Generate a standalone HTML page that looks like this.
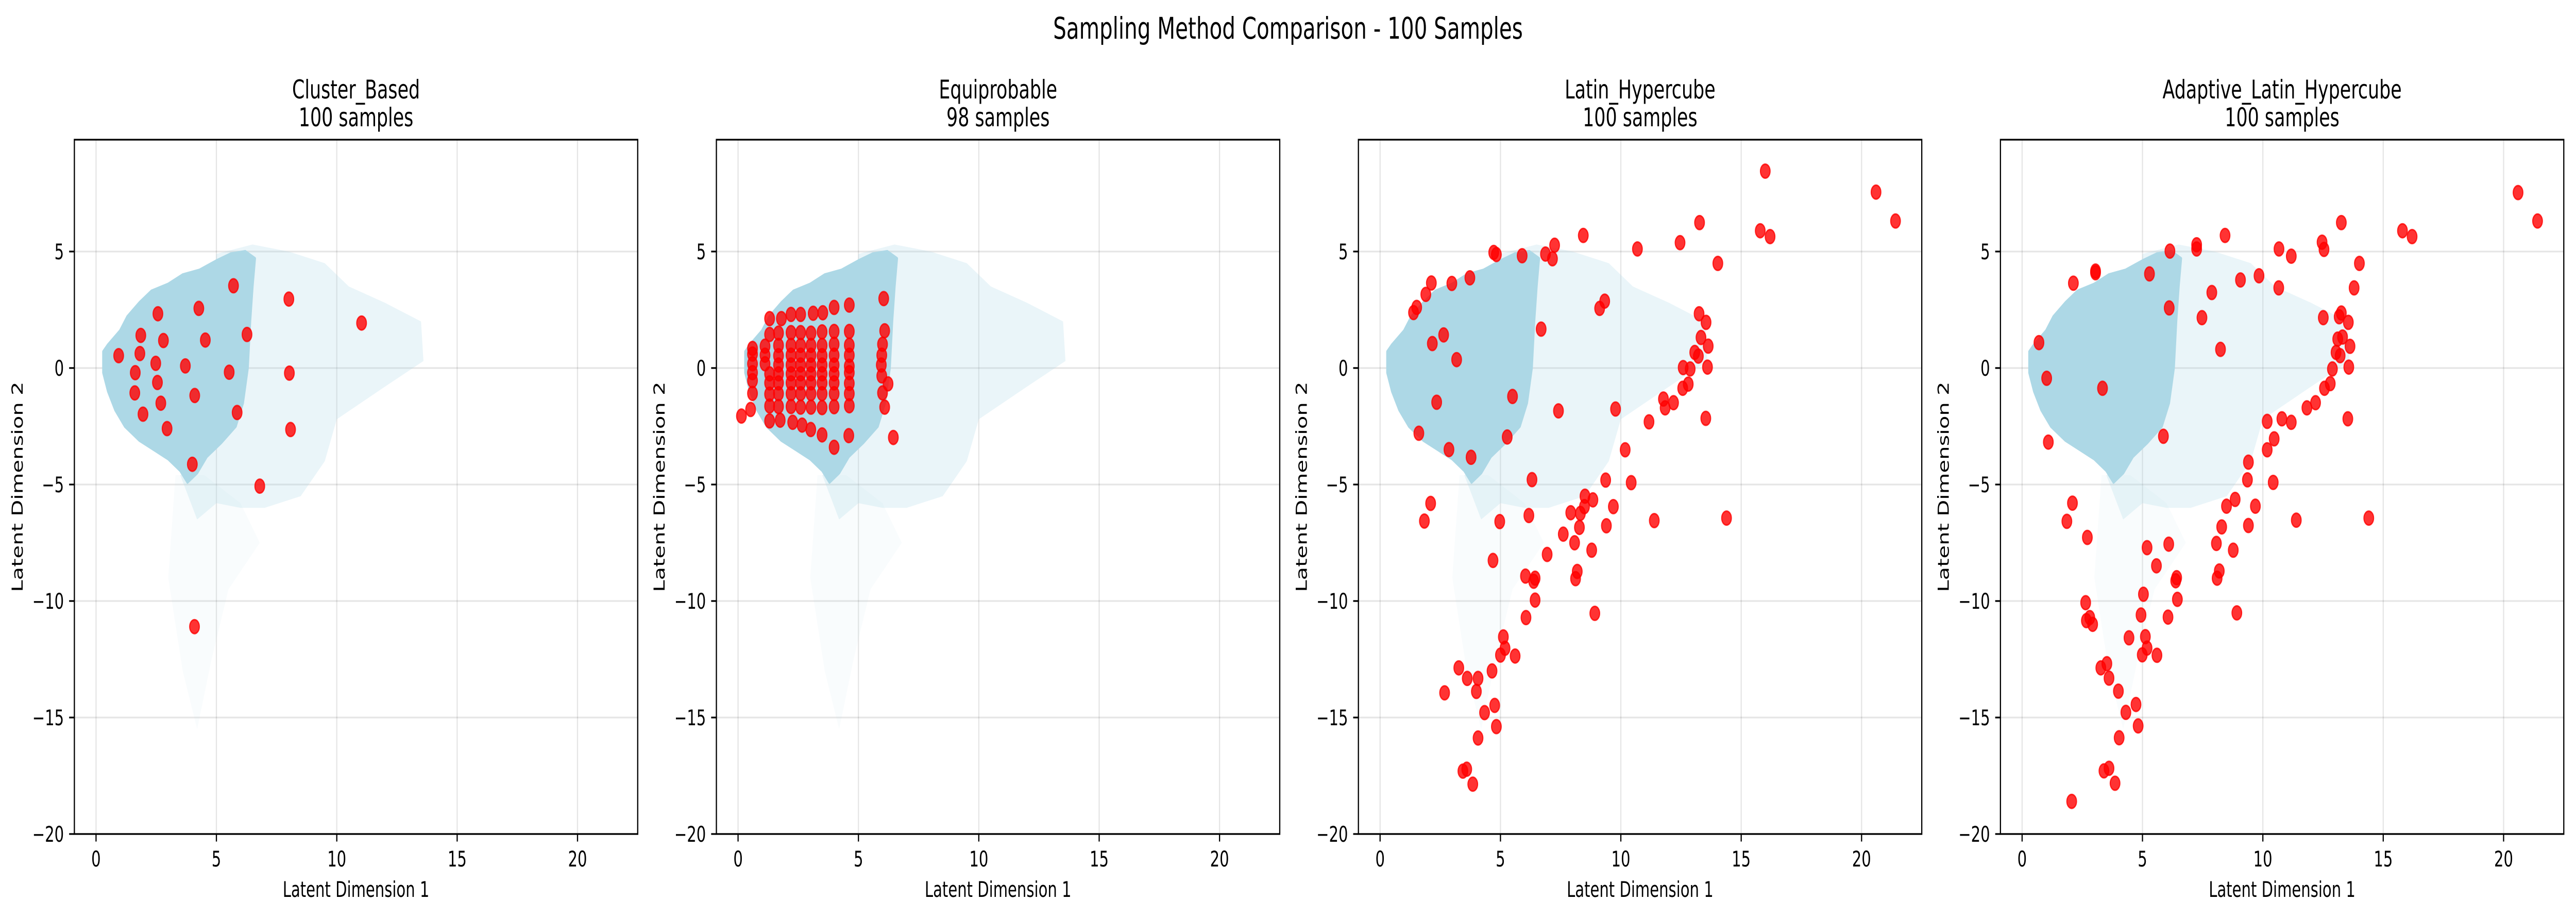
<!DOCTYPE html>
<html><head><meta charset="utf-8"><style>
html,body{margin:0;padding:0;background:#fff;width:100%;height:100%;overflow:hidden}
#fig{display:block;width:100vw;height:100vh}
text{font-family:"DejaVu Sans","Liberation Sans",sans-serif;fill:#000}
</style></head><body>
<svg id="fig" xmlns="http://www.w3.org/2000/svg" viewBox="0 0 7170 1779" preserveAspectRatio="none">
<text x="3585" y="75" font-size="58" text-anchor="middle">Sampling Method Comparison - 100 Samples</text>
</svg>
<script>
const xTicks=[0,5,10,15,20];
const yTicks=[5,0,-5,-10,-15,-20];
const panelTitles=["Cluster_Based","Equiprobable","Latin_Hypercube","Adaptive_Latin_Hypercube"];
const panelCounts=["100 samples","98 samples","100 samples","100 samples"];
// background cloud outlines (data coordinates)
const coreX=[0.3,0.5,1.0,1.3,1.8,2.3,3.0,3.6,4.3,5.0,5.6,6.2,6.6,6.5,6.4,6.3,6.1,5.8,5.2,4.6,4.2,3.8,3.5,3.0,2.4,1.8,1.2,0.8,0.5,0.3];
const coreY=[0.7,1.0,1.6,2.2,2.8,3.3,3.6,4.0,4.2,4.6,4.9,5.0,4.7,3.5,2.0,0.0,-1.5,-2.5,-3.2,-3.8,-4.5,-4.9,-4.4,-3.9,-3.5,-3.1,-2.5,-1.8,-1.0,-0.2];
const haloX=[5.0,6.5,8.0,9.5,10.5,12.0,13.5,13.6,12.0,10.0,9.5,8.5,7.0,6.0,5.0,4.2,3.5,4.5];
const haloY=[4.9,5.3,5.0,4.5,3.5,2.8,2.0,0.3,-0.8,-2.2,-4.0,-5.5,-6.0,-6.0,-5.8,-6.5,-4.6,-3.8];
const tailX=[3.3,4.5,6.0,6.8,5.5,4.8,4.2,3.6,3.0];
const tailY=[-4.6,-4.6,-5.8,-7.5,-9.5,-12.5,-15.5,-13.0,-9.0];

const clusterX=[0.94,1.86,1.82,1.63,1.61,1.95,2.57,2.48,2.55,2.69,2.80,2.95,3.71,4.27,4.54,4.10,4.00,4.09,5.71,5.53,6.27,5.86,6.80,8.01,8.03,8.08,11.03];
const clusterY=[0.53,1.40,0.62,-0.20,-1.07,-1.98,2.33,0.20,-0.62,-1.51,1.18,-2.60,0.09,2.56,1.20,-1.18,-4.13,-11.1,3.53,-0.18,1.44,-1.91,-5.07,2.96,-0.22,-2.64,1.93];

const equiX=[0.6,0.6,0.6,0.6,0.6,0.6,0.52,0.14,
 1.12,1.12,1.12,
 1.31,1.31,1.31,1.31,1.31,1.31,1.31,
 1.8,1.68,1.68,1.68,1.68,1.68,1.68,1.68,1.68,1.75,
 2.2,2.2,2.2,2.2,2.2,2.2,2.2,2.2,2.2,2.27,
 2.6,2.6,2.6,2.6,2.6,2.6,2.6,2.6,2.6,2.66,
 3.12,3.03,3.03,3.03,3.03,3.03,3.03,3.03,3.03,3.02,
 3.52,3.49,3.49,3.49,3.49,3.49,3.49,3.49,3.49,3.49,
 3.99,3.99,3.99,3.99,3.99,3.99,3.99,3.99,3.99,3.99,
 4.62,4.62,4.62,4.62,4.62,4.62,4.62,4.62,4.62,4.6,
 6.05,6.09,6.0,5.97,5.95,5.97,6.23,6.0,6.09,6.45];
const equiY=[0.84,0.6,0.18,-0.2,-0.54,-1.09,-1.78,-2.06,
 0.94,0.55,0.18,
 2.12,1.44,-0.25,-0.64,-1.12,-1.63,-2.27,
 2.12,1.5,0.97,0.53,0.13,-0.25,-0.64,-1.1,-1.65,-2.24,
 2.3,1.52,0.97,0.55,0.13,-0.25,-0.64,-1.1,-1.65,-2.33,
 2.3,1.52,0.97,0.55,0.13,-0.25,-0.64,-1.1,-1.68,-2.45,
 2.35,1.5,0.97,0.55,0.13,-0.25,-0.64,-1.1,-1.68,-2.64,
 2.37,1.55,0.97,0.53,0.13,-0.25,-0.64,-1.1,-1.7,-2.87,
 2.6,1.57,1.02,0.55,0.13,-0.25,-0.64,-1.1,-1.66,-3.4,
 2.7,1.57,0.98,0.55,0.08,-0.2,-0.66,-1.1,-1.62,-2.9,
 2.98,1.6,1.02,0.55,0.13,-0.34,-0.68,-1.07,-1.68,-2.98];

const lhsX=[16.0,20.6,21.41,13.27,15.79,16.2,12.46,10.69,8.44,7.25,7.16,6.87,5.9,4.72,4.83,14.03,3.73,2.98,2.13,1.9,1.52,1.39,9.33,9.12,13.25,13.54,6.69,2.64,2.17,13.33,13.63,13.07,13.22,3.18,12.59,12.88,13.6,12.8,12.57,5.5,2.35,11.77,11.84,12.19,9.78,7.41,13.53,11.17,1.61,5.28,2.86,3.78,10.18,6.31,9.37,10.43,2.1,1.84,4.97,6.18,8.51,8.84,8.49,9.69,7.92,8.32,14.39,11.39,8.28,9.4,7.61,8.08,8.79,6.94,4.69,6.04,6.44,6.38,8.19,8.12,6.44,8.92,6.06,5.12,5.19,5.0,5.61,3.27,4.65,3.62,4.07,4.0,2.68,4.76,4.34,4.83,4.07,3.44,3.6,3.85];
const lhsY=[8.45,7.55,6.31,6.24,5.89,5.64,5.38,5.11,5.69,5.27,4.69,4.89,4.82,4.96,4.87,4.49,3.87,3.63,3.65,3.16,2.6,2.38,2.87,2.56,2.33,1.96,1.67,1.42,1.05,1.31,0.94,0.67,0.51,0.36,0.02,-0.04,0.04,-0.69,-0.87,-1.22,-1.47,-1.33,-1.71,-1.49,-1.76,-1.84,-2.16,-2.31,-2.8,-2.96,-3.5,-3.83,-3.51,-4.79,-4.81,-4.92,-5.81,-6.57,-6.59,-6.33,-5.5,-5.66,-5.95,-5.95,-6.21,-6.24,-6.44,-6.55,-6.84,-6.77,-7.13,-7.5,-7.82,-8.0,-8.26,-8.93,-9.02,-9.15,-8.73,-9.04,-9.96,-10.53,-10.71,-11.54,-12.03,-12.32,-12.36,-12.87,-13.0,-13.32,-13.32,-13.88,-13.94,-14.48,-14.79,-15.39,-15.88,-17.3,-17.22,-17.86];

const alhsX=[20.6,21.41,13.26,15.8,16.2,12.46,12.54,10.67,11.18,14.01,8.43,7.25,7.25,6.14,3.05,3.05,5.29,2.13,9.07,9.84,10.66,13.79,7.88,6.11,7.47,12.51,13.17,13.26,13.55,13.31,13.11,13.62,13.04,13.21,13.57,12.89,0.70,8.24,1.02,3.34,12.8,12.56,12.19,11.83,10.79,11.18,10.18,13.53,1.09,5.87,10.47,10.18,9.4,9.36,10.43,2.09,1.86,2.71,8.85,8.49,9.69,11.39,14.4,9.4,8.29,8.07,8.77,6.09,5.19,5.58,8.19,8.1,6.42,6.38,6.45,5.04,2.64,2.67,2.81,2.93,4.94,6.06,8.92,4.44,5.12,5.19,4.99,5.6,3.27,3.52,3.61,4.0,4.73,4.31,4.82,4.03,3.4,3.61,3.86,2.06];
const alhsY=[7.53,6.31,6.24,5.89,5.64,5.4,5.09,5.11,4.8,4.49,5.69,5.29,5.11,5.02,4.16,4.09,4.04,3.64,3.78,3.96,3.44,3.44,3.24,2.58,2.16,2.16,2.2,2.36,1.96,1.33,1.24,0.93,0.67,0.53,0.04,-0.04,1.09,0.8,-0.44,-0.87,-0.67,-0.87,-1.49,-1.71,-2.18,-2.33,-2.29,-2.18,-3.18,-2.93,-3.04,-3.51,-4.04,-4.8,-4.91,-5.8,-6.58,-7.27,-5.64,-5.93,-5.93,-6.53,-6.44,-6.76,-6.82,-7.53,-7.82,-7.56,-7.71,-8.49,-8.71,-9.02,-9.0,-9.13,-9.93,-9.71,-10.07,-10.84,-10.71,-11.0,-10.6,-10.69,-10.51,-11.58,-11.53,-12.02,-12.31,-12.33,-12.87,-12.69,-13.31,-13.87,-14.44,-14.78,-15.36,-15.87,-17.29,-17.18,-17.82,-18.6];

const seriesX=[clusterX,equiX,lhsX,alhsX];
const seriesY=[clusterY,equiY,lhsY,alhsY];
const panelSlugs=["cluster-based","equiprobable","latin-hypercube","adaptive-latin-hypercube"];

const NS="http://www.w3.org/2000/svg";
const svg=document.getElementById('fig');
const PW=1568, PH=1347, TOP=271, XMIN=-0.9, XMAX=22.5, YMIN=-20, YMAX=9.8;
function mk(tag,attrs,parent){const e=document.createElementNS(NS,tag);for(const k in attrs)e.setAttribute(k,attrs[k]);(parent||svg).appendChild(e);return e;}
function poly(xs,ys,sx,sy){return xs.map((v,i)=>sx(v).toFixed(1)+','+sy(ys[i]).toFixed(1)).join(' ');}

for(let p=0;p<4;p++){
  const L=207+p*1787;
  const sx=v=>L+(v-XMIN)/(XMAX-XMIN)*PW;
  const sy=v=>TOP+(YMAX-v)/(YMAX-YMIN)*PH;
  const g=mk('g',{});
  
  
  const clipId='clip'+p;
  const cp=mk('clipPath',{id:clipId},g);
  mk('rect',{x:L,y:TOP,width:PW,height:PH},cp);
  xTicks.forEach(t=>{const l=mk('line',{x1:sx(t),x2:sx(t),y1:TOP,y2:TOP+PH,stroke:'#000','stroke-opacity':0.1,'stroke-width':3.3},g);
    
    });
  yTicks.forEach(t=>{const l=mk('line',{x1:L,x2:L+PW,y1:sy(t),y2:sy(t),stroke:'#000','stroke-opacity':0.1,'stroke-width':3.3},g);
    
    });
  const bg=mk('g',{'clip-path':'url(#'+clipId+')'},g);
  
  
  mk('polygon',{points:poly(tailX,tailY,sx,sy),fill:'#add8e6','fill-opacity':0.08},bg);
  mk('polygon',{points:poly(haloX,haloY,sx,sy),fill:'#add8e6','fill-opacity':0.25,'stroke-linejoin':'round'},bg);
  mk('polygon',{points:poly(coreX,coreY,sx,sy),fill:'#add8e6','stroke':'#add8e6','stroke-width':6,'stroke-linejoin':'round'},bg);
  const xs=seriesX[p], ys=seriesY[p];
  for(let i=0;i<xs.length;i++){
    const c=mk('circle',{cx:sx(xs[i]).toFixed(1),cy:sy(ys[i]).toFixed(1),r:13.5,fill:'#ff0000','fill-opacity':0.8,stroke:'#ff0000','stroke-opacity':0.8,'stroke-width':3},g);
    
    
  }
  const fr=mk('rect',{x:L,y:TOP,width:PW,height:PH,fill:'none',stroke:'#000','stroke-width':3.3},g);
  
  
  xTicks.forEach(t=>{
    mk('line',{x1:sx(t),x2:sx(t),y1:TOP+PH,y2:TOP+PH+14.6,stroke:'#000','stroke-width':3.3},g);
    const tx=mk('text',{x:sx(t),y:1681,'font-size':41.7,'text-anchor':'middle'},g);
    tx.textContent=String(t);
    
    
  });
  yTicks.forEach(t=>{
    mk('line',{x1:L-14.6,x2:L,y1:sy(t),y2:sy(t),stroke:'#000','stroke-width':3.3},g);
    const ty=mk('text',{x:L-29,y:sy(t)+15,'font-size':41.7,'text-anchor':'end'},g);
    ty.textContent=(t<0?'\u2212'+(-t):String(t));
    
    
  });
  const xl=mk('text',{x:L+PW/2,y:1740,'font-size':41.7,'text-anchor':'middle'},g);
  xl.textContent='Latent Dimension 1';
  
  
  const yl=mk('text',{x:0,y:0,'font-size':41.7,'text-anchor':'middle',transform:'translate('+(L-144)+','+(TOP+PH/2)+') rotate(-90)'},g);
  yl.textContent='Latent Dimension 2';
  
  
  const t1=mk('text',{x:L+PW/2,y:191,'font-size':50,'text-anchor':'middle'},g);
  t1.textContent=panelTitles[p];
  
  
  const t2=mk('text',{x:L+PW/2,y:245,'font-size':50,'text-anchor':'middle'},g);
  t2.textContent=panelCounts[p];
  
  
}
</script>
</body></html>
